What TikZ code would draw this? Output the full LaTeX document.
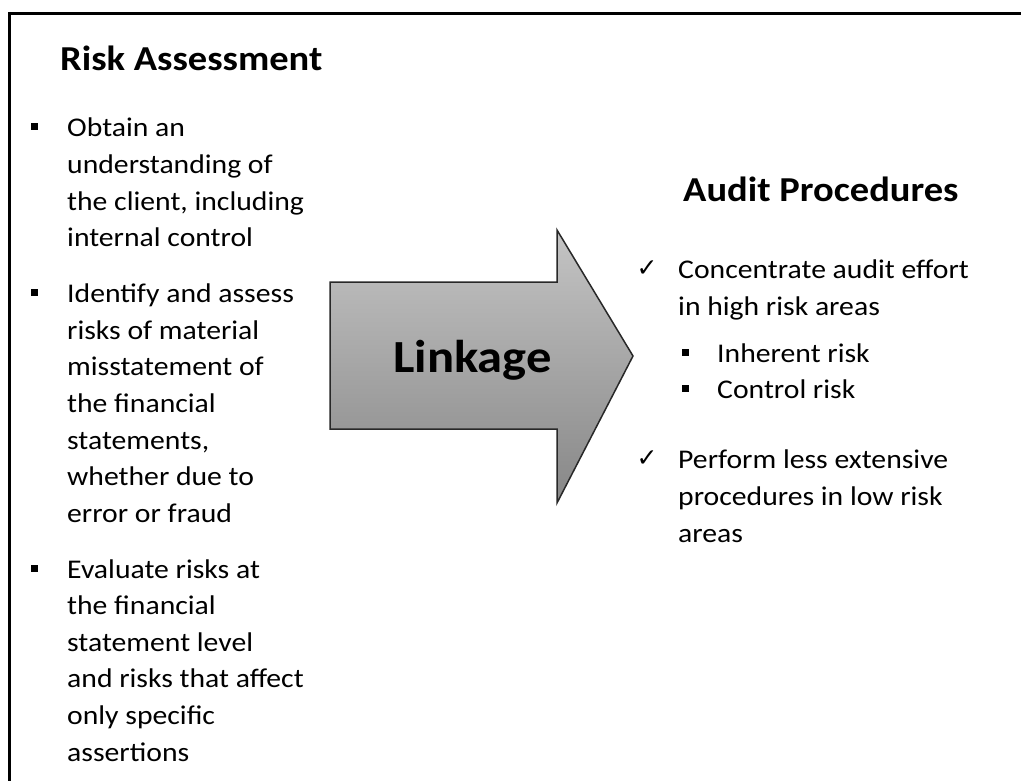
\documentclass[tikz,border=0pt]{standalone}
\usepackage{fontspec}
\setmainfont{Carlito}[FakeStretch=1.1]
\newfontfamily\symfont{DejaVu Sans}
\definecolor{arrowtop}{RGB}{196,196,196}
\definecolor{arrowbot}{RGB}{135,135,135}
\definecolor{arrowline}{RGB}{40,40,40}
\begin{document}
\begin{tikzpicture}[x=1pt,y=-1pt,
  txt/.style={anchor=base west,inner sep=0pt,font=\fontsize{27}{37}\selectfont},
  ttl/.style={anchor=base west,inner sep=0pt,font=\fontsize{35}{40}\selectfont\bfseries},
  sq/.style={fill=black,inner sep=0pt,minimum size=7pt,draw=none},
  chk/.style={inner sep=0pt,font=\symfont\fontsize{25}{25}\selectfont},
  frame/.style={line width=3pt,black}]
\useasboundingbox (0,0) rectangle (1021,781);
% frame lines
\coordinate (fTR) at (1021,13.5);
\coordinate (fTL) at (8,13.5);
\coordinate (fBL) at (9.5,781);
\draw[frame] (fTR) -- (fTL);
\draw[frame] (9.5,12) -- (fBL);
% titles
\node[ttl] (rtitle) at (60,71) {Risk Assessment};
\node[ttl] (atitle) at (683,202) {Audit Procedures};
% left column
\foreach \t [count=\i] in {Obtain an, understanding of, {the client, including}, internal control}
  \node[txt] (a\i) at (67,{137+36.6*(\i-1)}) {\t};
\foreach \t [count=\i] in {Identify and assess, risks of material, misstatement of, the financial, {statements,}, whether due to, error or fraud}
  \node[txt] (b\i) at (67,{302.6+36.6*(\i-1)}) {\t};
\foreach \t [count=\i] in {Evaluate risks at, the financial, statement level, and risks that affect, only specific, assertions}
  \node[txt] (c\i) at (67,{578+36.6*(\i-1)}) {\t};
\node[sq] (ba) at (34,127) {};
\node[sq] (bb) at (34,292.6) {};
\node[sq] (bc) at (34,568) {};
% arrow
\coordinate (p1) at (330,282);
\coordinate (p2) at (557,282);
\coordinate (p3) at (557,230);
\coordinate (p4) at (633,356);
\coordinate (p5) at (557,503);
\coordinate (p6) at (557,429);
\coordinate (p7) at (330,429);
\draw[arrowline,line width=1.5pt,top color=arrowtop,bottom color=arrowbot,line join=miter]
  (p1) -- (p2) -- (p3) -- (p4) -- (p5) -- (p6) -- (p7) -- cycle;
\node[anchor=base west,inner sep=0pt,font=\fontsize{46}{50}\selectfont\bfseries] (link) at (393,372) {Linkage};
% right column
\node[chk] (k1) at (647,269) {✓};
\node[txt] (r1) at (678,278) {Concentrate audit effort};
\node[txt] (r2) at (678,315) {in high risk areas};
\node[sq] (s1) at (685,352) {};
\node[txt] (r3) at (717,362) {Inherent risk};
\node[sq] (s2) at (685,388) {};
\node[txt] (r4) at (717,398) {Control risk};
\node[chk] (k2) at (647,459) {✓};
\node[txt] (r5) at (678,468) {Perform less extensive};
\node[txt] (r6) at (678,505) {procedures in low risk};
\node[txt] (r7) at (678,542) {areas};
\end{tikzpicture}
\end{document}
